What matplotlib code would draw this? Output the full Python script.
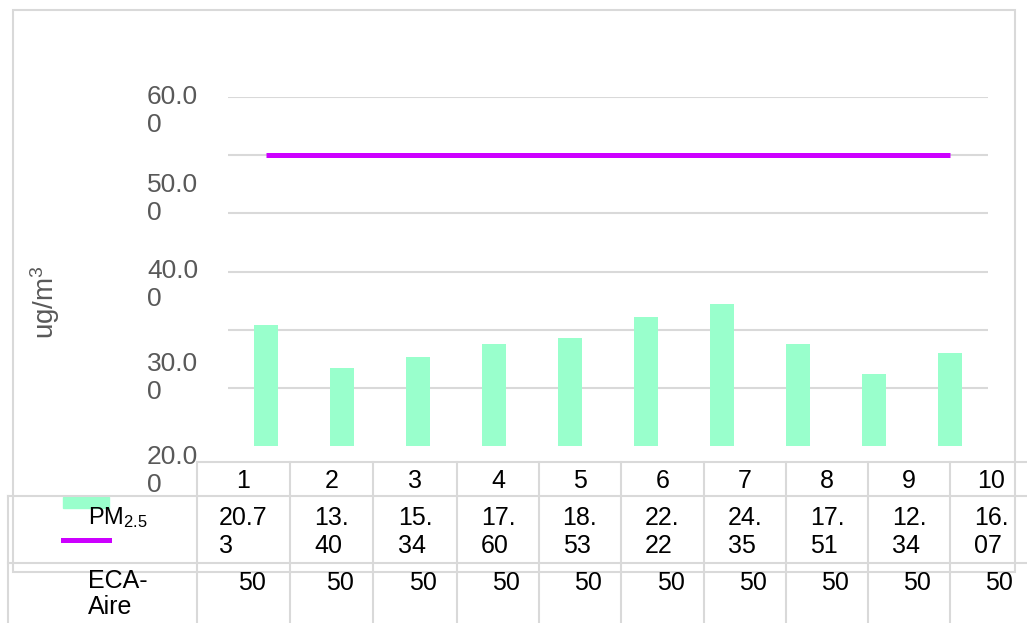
import matplotlib
matplotlib.use("Agg")
import matplotlib.pyplot as plt
from matplotlib.lines import Line2D
from matplotlib.patches import Rectangle

plt.rcParams['font.family'] = ['Liberation Sans', 'DejaVu Sans']
plt.rcParams['mathtext.fontset'] = 'custom'
plt.rcParams['mathtext.rm'] = 'Liberation Sans'
plt.rcParams['mathtext.it'] = 'Liberation Sans'
plt.rcParams['mathtext.default'] = 'regular'

# ---- data ----
categories = [1, 2, 3, 4, 5, 6, 7, 8, 9, 10]
pm25 = [20.73, 13.40, 15.34, 17.60, 18.53, 22.22, 24.35, 17.51, 12.34, 16.07]
eca_aire = [50, 50, 50, 50, 50, 50, 50, 50, 50, 50]
ytick_values = [60, 50, 40, 30, 20]
series_names = ["PM$_{2.5}$", "ECA-\nAire"]
ylabel = "ug/m$^{3}$"

BAR_COLOR = "#99FFCC"
LINE_COLOR = "#CC00FF"
GRID = "#D9D9D9"
GRAY_TXT = "#595959"

W, H = 1027, 623
fig = plt.figure(figsize=(W / 100, H / 100), dpi=100)


def fx(px):
    return px / W


def fy(py):
    return 1 - py / H


# ---- main plot area ----
ax = fig.add_axes([fx(228), fy(446), fx(988) - fx(228), fy(97) - fy(446)])
ax.bar(categories, pm25, width=0.32, color=BAR_COLOR, zorder=2)
ax.plot(categories, eca_aire, color=LINE_COLOR, lw=3.6, solid_capstyle='butt', zorder=3)
ax.set_xlim(0.5, 10.5)
ax.set_ylim(0, 60)
ax.set_yticks(list(range(10, 70, 10)))
ax.set_xticks([])
ax.yaxis.grid(True, color=GRID, lw=1.5)
ax.set_axisbelow(True)
ax.tick_params(axis='y', length=0, labelleft=False)
for s in ax.spines.values():
    s.set_visible(False)


def wrap(s, n):
    return s if len(s) <= n else s[:n] + "\n" + s[n:]


# y tick labels (as laid out in the reference)
label_rows = [85, 173, 259, 352, 445]
for v, py in zip(ytick_values, label_rows):
    fig.text(fx(147), fy(py), wrap(f"{v:.2f}", 4), ha='left', va='top',
             fontsize=19, color=GRAY_TXT, linespacing=1.2)

fig.text(fx(45), fy(302), ylabel, rotation=90, ha='center', va='center',
         fontsize=20, color=GRAY_TXT)

# ---- chart border ----
fig.patches.append(Rectangle((fx(13), fy(572)), fx(1015) - fx(13), fy(10) - fy(572),
                             transform=fig.transFigure, fill=False,
                             edgecolor=GRID, lw=1.5))

# ---- data table ----
col_edges = [197, 290, 373, 457, 539, 621, 704, 786, 868, 950, 1032]


def hline(y, x0, x1):
    fig.add_artist(Line2D([fx(x0), fx(x1)], [fy(y), fy(y)], color=GRID, lw=1.5,
                          transform=fig.transFigure))


def vline(x, y0, y1):
    fig.add_artist(Line2D([fx(x), fx(x)], [fy(y0), fy(y1)], color=GRID, lw=1.5,
                          transform=fig.transFigure))


hline(462, 197, W)
hline(496, 8, W)
hline(563, 8, W)
vline(8, 496, H)
for x in col_edges[:-1]:
    vline(x, 462, H)

for i, c in enumerate(categories):
    cx = (col_edges[i] + col_edges[i + 1]) / 2
    fig.text(fx(cx), fy(481), str(c), ha='center', va='center', fontsize=18)
    txt = wrap(f"{pm25[i]:.2f}", 4 if i == 0 else 3)
    fig.text(fx(cx), fy(532), txt, ha='center', va='center', fontsize=18,
             multialignment='left', linespacing=1.2)
    fig.text(fx(cx + 8), fy(583), str(eca_aire[i]), ha='center', va='center', fontsize=18)

# legend keys + series names
fig.patches.append(Rectangle((fx(63), fy(508)), fx(109) - fx(63), fy(497) - fy(508),
                             transform=fig.transFigure, color=BAR_COLOR))
fig.add_artist(Line2D([fx(63), fx(109)], [fy(540), fy(540)], color=LINE_COLOR, lw=3.6,
                      transform=fig.transFigure))
fig.text(fx(88), fy(518), series_names[0], ha='left', va='center', fontsize=17)
fig.text(fx(88), fy(569), series_names[1], ha='left', va='top', fontsize=18,
         linespacing=1.1)

fig.savefig("out.png", dpi=100)
